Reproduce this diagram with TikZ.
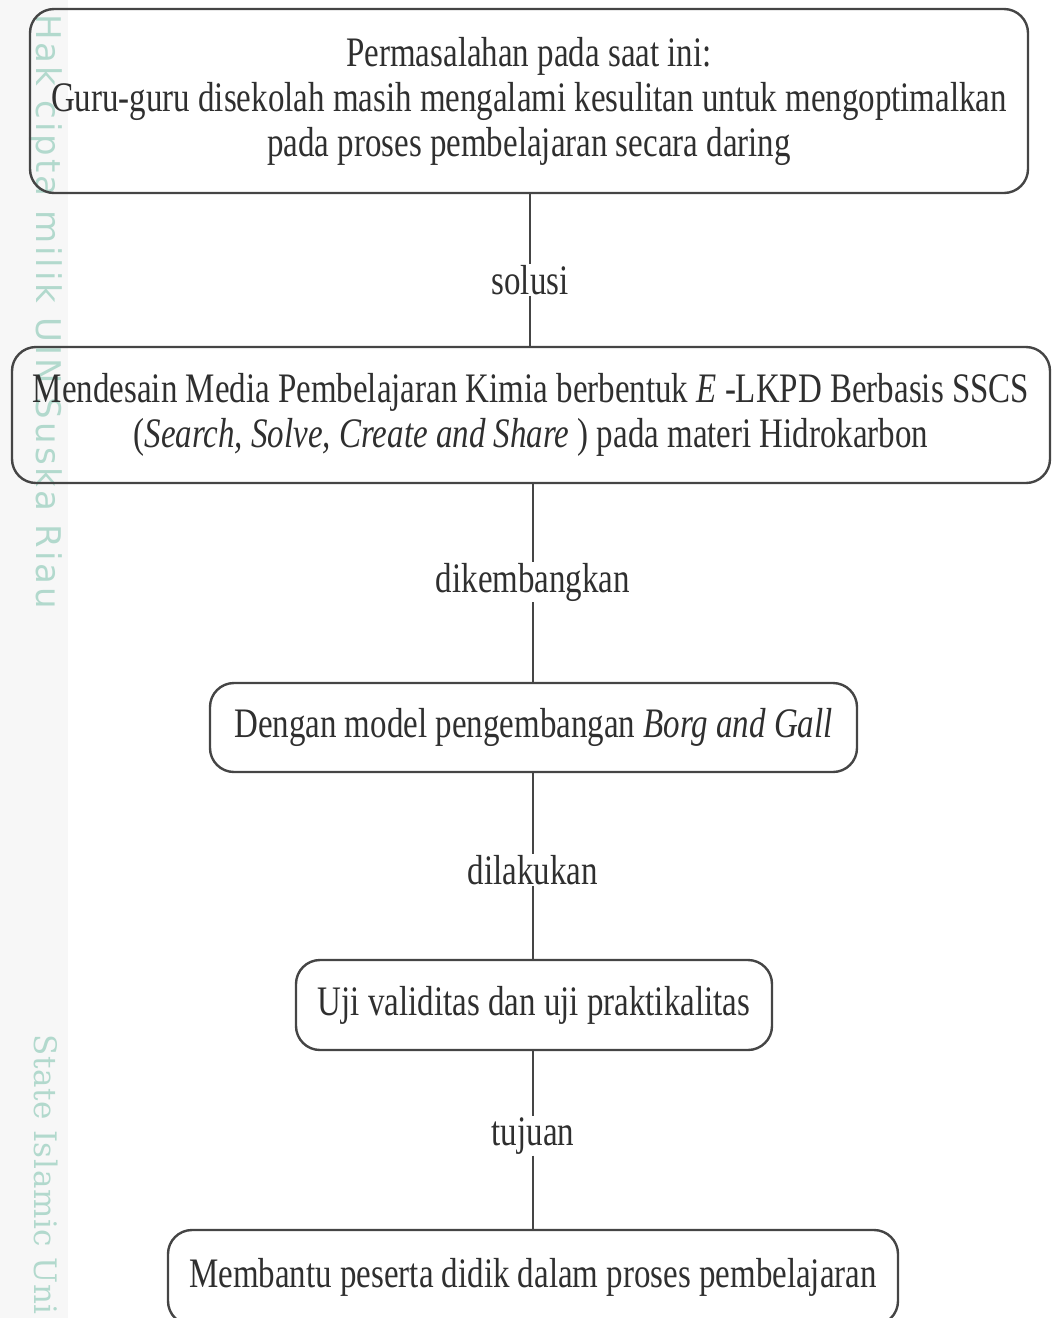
\documentclass[tikz,border=0pt]{standalone}
\usepackage{fontspec}
\setmainfont{Liberation Serif}[FakeStretch=0.785]
\newfontfamily\wmsans{DejaVu Sans}[LetterSpace=9]
\newfontfamily\wmserif{DejaVu Serif}[LetterSpace=2]
\definecolor{ink}{HTML}{2F2F2F}
\definecolor{edge}{HTML}{454545}
\definecolor{wm}{HTML}{B2D9CD}
\tikzset{
  box/.style={draw=edge, line width=2.4pt, rounded corners=24pt, align=center,
    text=ink, font=\fontsize{42}{45}\selectfont, inner sep=0pt},
  lbl/.style={text=ink, font=\fontsize{42}{45}\selectfont, inner sep=1pt},
  conn/.style={draw=edge, line width=2pt},
  wmtext/.style={text=wm, rotate=-90, anchor=west, inner sep=0pt}
}
\begin{document}
\begin{tikzpicture}[x=1pt,y=1pt]
\useasboundingbox (0,0) rectangle (1054,-1318);
\fill[black!3] (0,0) rectangle (68,-1318);
\node[wmtext, font=\wmsans\fontsize{34}{34}\selectfont] (wm1) at (46,-14) {Hak cipta milik UIN Suska Riau};
\node[wmtext, font=\wmserif\fontsize{31}{31}\selectfont] (wm2) at (46,-1034) {State Islamic Uni};

\node[box, minimum width=998pt, minimum height=184pt] (b1) at (529,-101)
  {Permasalahan pada saat ini:\\Guru-guru disekolah masih mengalami kesulitan untuk mengoptimalkan\\pada proses pembelajaran secara daring};
\node[box, minimum width=1038pt, minimum height=136pt] (b2) at (531,-415)
  {Mendesain Media Pembelajaran Kimia berbentuk \textit{E} -LKPD Berbasis SSCS\\(\textit{Search, Solve, Create and Share} ) pada materi Hidrokarbon};
\node[box, minimum width=647pt, minimum height=89pt] (b3) at (533.5,-727.5)
  {Dengan model pengembangan \textit{Borg and Gall}};
\node[box, minimum width=476pt, minimum height=90pt] (b4) at (534,-1005)
  {Uji validitas dan uji praktikalitas};
\node[box, minimum width=730pt, minimum height=95pt] (b5) at (533,-1277.5)
  {Membantu peserta didik dalam proses pembelajaran};

\node[lbl] (l1) at (530,-280) {solusi};
\node[lbl] (l2) at (533,-582) {dikembangkan};
\node[lbl] (l3) at (533,-870) {dilakukan};
\node[lbl] (l4) at (533,-1136) {tujuan};

\draw[conn] (b1.south -| l1) -- (l1.north);
\draw[conn] (l1.south) -- (b2.north -| l1);
\draw[conn] (b2.south -| l2) -- (l2.north);
\draw[conn] (l2.south) -- (b3.north -| l2);
\draw[conn] (b3.south -| l3) -- (l3.north);
\draw[conn] (l3.south) -- (b4.north -| l3);
\draw[conn] (b4.south -| l4) -- (l4.north);
\draw[conn] (l4.south) -- (b5.north -| l4);
\end{tikzpicture}
\end{document}
